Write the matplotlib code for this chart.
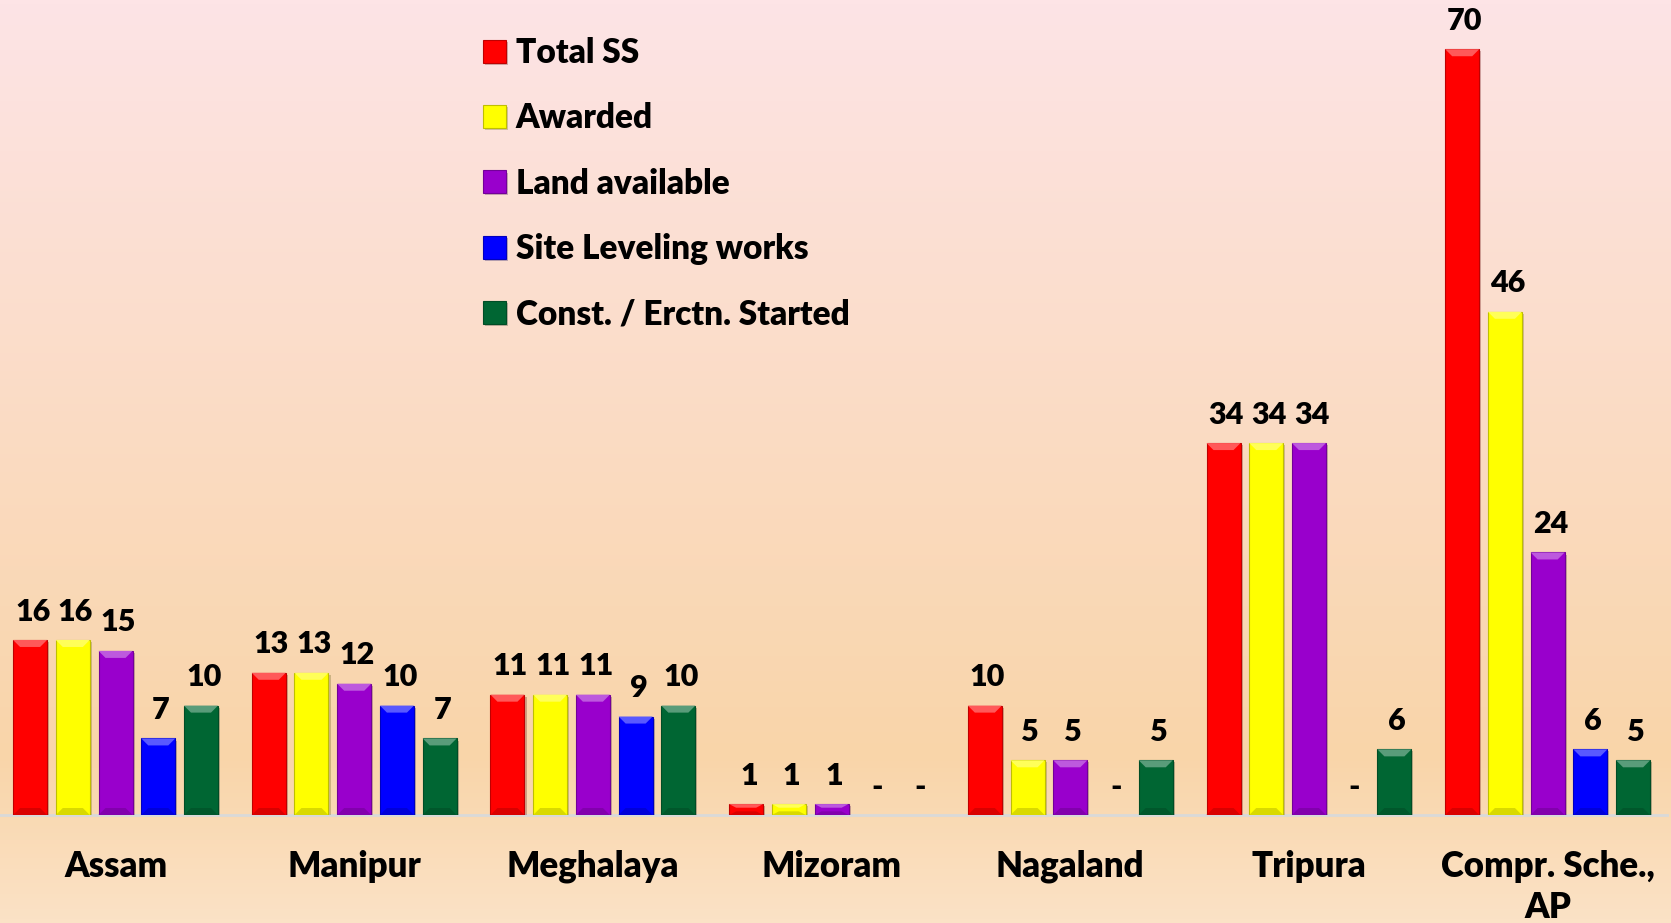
import numpy as np
import matplotlib
matplotlib.use('Agg')
import matplotlib.pyplot as plt
import matplotlib.patheffects as pe
from matplotlib.colors import LinearSegmentedColormap, to_rgb
from matplotlib.patches import Polygon

categories = ['Assam', 'Manipur', 'Meghalaya', 'Mizoram', 'Nagaland', 'Tripura', 'Compr. Sche.,\nAP']
series_names = ['Total SS', 'Awarded', 'Land available', 'Site Leveling works', 'Const. / Erctn. Started']
total_ss = [16, 13, 11, 1, 10, 34, 70]
awarded = [16, 13, 11, 1, 5, 34, 46]
land_available = [15, 12, 11, 1, 5, 34, 24]
site_leveling = [7, 10, 9, 0, 0, 0, 6]
const_started = [10, 7, 10, 0, 5, 6, 5]
colors = ['#ff0000', '#ffff00', '#9900cc', '#0000ff', '#006633']


def shade(c, f):
    r, g, b = to_rgb(c)
    if f < 1:
        return (r * f, g * f, b * f)
    f = f - 1
    return (r + (1 - r) * f, g + (1 - g) * f, b + (1 - b) * f)


plt.rcParams['font.family'] = ['Lato', 'DejaVu Sans']
WEIGHT = 'heavy'

fig = plt.figure(figsize=(16.71, 9.23), dpi=100)

# gradient background, pink on top to peach at the bottom
bg = fig.add_axes([0, 0, 1, 1], zorder=0)
cmap = LinearSegmentedColormap.from_list('bg', [(0, '#fde4e6'), (0.82, '#f9d5a9'), (1, '#fbe2c6')])
bg.imshow(np.linspace(0, 1, 256).reshape(-1, 1), aspect='auto', cmap=cmap, extent=[0, 1, 0, 1])
bg.axis('off')

ax = fig.add_axes([0, 0.117, 0.9976, 0.883], zorder=1)
ax.patch.set_alpha(0)
ax.set_xlim(-0.484, 6.5)
ax.set_ylim(0, 74.5)

values = [total_ss, awarded, land_available, site_leveling, const_started]
x = np.arange(len(categories))
width = 0.1425
step = 0.179

# size of the bevel in data units (~7 px)
px_y = 74.5 / (0.883 * 923)
px_x = 6.984 / (0.9976 * 1671)
bev_h = 7 * px_y
bev_w = 7 * px_x

for i, (name, vals, c) in enumerate(zip(series_names, values, colors)):
    bars = ax.bar(x + (i - 2) * step, vals, width, color=c, edgecolor=shade(c, 0.75),
                  linewidth=0.8, label=name, zorder=3,
                  path_effects=[pe.SimplePatchShadow(offset=(1.5, -1.5), alpha=0.25), pe.Normal()])
    for b, v in zip(bars, vals):
        x0, x1 = b.get_x(), b.get_x() + b.get_width()
        if v == 0:
            b.set_visible(False)
        else:
            h = min(bev_h, v / 3)
            ax.add_patch(Polygon([(x0, v), (x1, v), (x1 - bev_w, v - h), (x0 + bev_w, v - h)],
                                 closed=True, facecolor=shade(c, 1.35), edgecolor='none', zorder=4))
            ax.add_patch(Polygon([(x0, 0), (x1, 0), (x1 - bev_w, h), (x0 + bev_w, h)],
                                 closed=True, facecolor=shade(c, 0.85), edgecolor='none', zorder=4))
        ax.annotate(str(v) if v else '-', ((x0 + x1) / 2, v), xytext=(2, 14),
                    textcoords='offset points', ha='center', va='baseline',
                    fontsize=22, fontweight=WEIGHT, zorder=5)

ax.set_xticks(x)
ax.set_xticklabels(categories, fontsize=25, fontweight=WEIGHT)
for t in ax.get_xticklabels():
    t.set_linespacing(1.32)
ax.tick_params(axis='x', length=0, pad=25)
ax.set_yticks([])
for s in ['top', 'left', 'right']:
    ax.spines[s].set_visible(False)
ax.spines['bottom'].set_color('#d9d9d9')
ax.spines['bottom'].set_linewidth(2)
ax.spines['bottom'].set_zorder(2)

ax.legend(loc='upper left', bbox_to_anchor=(0.289, 0.960), bbox_transform=fig.transFigure,
          frameon=False, prop={'size': 24, 'weight': WEIGHT}, handlelength=0.68,
          handleheight=0.68, handletextpad=0.3, labelspacing=1.0, borderpad=0,
          borderaxespad=0)

fig.savefig('out.png', dpi=100)
